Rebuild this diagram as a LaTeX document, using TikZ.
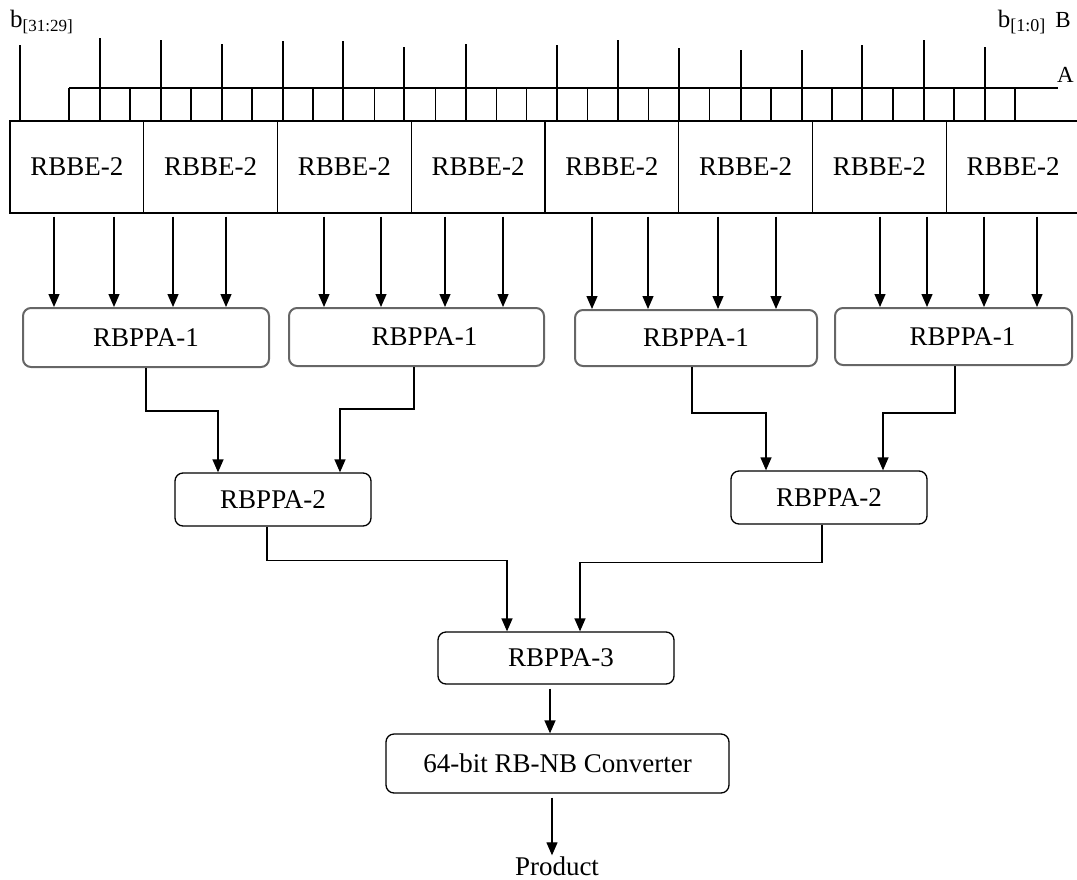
\documentclass[tikz,border=0pt]{standalone}
\usepackage{fontspec}
\setmainfont{Liberation Serif}
\usetikzlibrary{arrows.meta}
\begin{document}
\begin{tikzpicture}[x=1pt,y=-1pt,
  wire/.style={line width=1.3pt,draw=black},
  arr/.style={wire,-{Triangle[length=13pt,width=11pt]}},
  rbbebox/.style={draw,line width=1.3pt,minimum width=133.75pt,minimum height=92pt,inner sep=0pt,font=\fontsize{27}{30}\selectfont},
  ppaone/.style={draw=black!60,line width=2pt,rounded corners=8pt,inner sep=0pt,font=\fontsize{27}{30}\selectfont},
  ppa/.style={draw,line width=1.3pt,rounded corners=8pt,inner sep=0pt,font=\fontsize{27}{30}\selectfont},
  lbl/.style={inner sep=0pt,font=\fontsize{25}{28}\selectfont}]
\useasboundingbox (0,0) rectangle (1077,879);

% top labels
\node[lbl,anchor=base west] (b31) at (10,27) {b\raisebox{-0.4ex}{\fontsize{17}{17}\selectfont[31:29]}};
\node[lbl,anchor=base east] (b10) at (1071,27) {b\raisebox{-0.4ex}{\fontsize{18}{18}\selectfont[1:0]}\hspace{10pt}{\fontsize{23}{26}\selectfont B}};
\node[lbl,anchor=base east,font=\fontsize{23}{26}\selectfont] (alab) at (1074,82) {A};

% RBBE row
\foreach \i in {0,...,7}
  \node[rbbebox] (rbbe\i) at ({10+133.75*\i+66.875},167) {RBBE-2};

% A cells
\draw[wire] (69,88) -- (1058,88);
\foreach \k in {0,...,31}
  \draw[wire] ({69+30.516*\k},88) -- ({69+30.516*\k},121);

% B bit lines
\foreach \x/\t in {20/45,100/38,161/40,222/44,283/41,343/41,404/47,466/44,557/45,618/40,679/48,741/50,802/50,862/45,924/40,985/47}
  \draw[wire] (\x,\t) -- (\x,121);

% RBPPA-1
\node[ppaone,minimum width=246pt,minimum height=59pt] (p1) at (146,337.5) {RBPPA-1};
\node[ppaone,minimum width=255pt,minimum height=58pt] (p2) at (416.5,337) {\hspace{16pt}RBPPA-1};
\node[ppaone,minimum width=242pt,minimum height=56pt] (p3) at (696,338) {RBPPA-1};
\node[ppaone,minimum width=237pt,minimum height=57pt] (p4) at (953.5,336.5) {\hspace{18pt}RBPPA-1};

% RBPPA-2, 3, converter
\node[ppa,minimum width=196pt,minimum height=53pt] (q1) at (273,499.5) {RBPPA-2};
\node[ppa,minimum width=196pt,minimum height=53pt] (q2) at (829,497.5) {RBPPA-2};
\node[ppa,minimum width=236pt,minimum height=52pt] (r) at (556,658) {\hspace{10pt}RBPPA-3};
\node[ppa,minimum width=343pt,minimum height=59pt] (conv) at (557.5,763.5) {64-bit RB-NB Converter};
\node[inner sep=1pt,font=\fontsize{27}{30}\selectfont] (prod) at (557,866) {Product};

% arrows RBBE -> RBPPA-1
\foreach \x/\b/\p in {54/0/1,114/0/1,173/1/1,226/1/1,324/2/2,381/2/2,445/3/2,503/3/2,592/4/3,648/4/3,718/5/3,776/5/3,880/6/4,927/6/4,984/7/4,1037/7/4}
  \draw[arr,shorten <=3pt] (rbbe\b.south -| \x,0) -- (p\p.north -| \x,0);

% RBPPA-1 -> RBPPA-2
\draw[arr] (p1.south) -- ++(0,43) -| (q1.north -| 218,0);
\draw[arr] (p2.south -| 414,0) -- ++(0,42) -| (q1.north -| 340,0);
\draw[arr] (p3.south -| 692,0) -- ++(0,46) -| (q2.north -| 766,0);
\draw[arr] (p4.south -| 955,0) -- ++(0,47) -| (q2.north -| 883,0);

% RBPPA-2 -> RBPPA-3
\draw[arr] (q1.south -| 267,0) -- ++(0,34) -| (r.north -| 507,0);
\draw[arr] (q2.south -| 822,0) -- ++(0,38) -| (r.north -| 580,0);

% RBPPA-3 -> converter -> product
\draw[arr,shorten <=4pt] (r.south -| 550,0) -- (conv.north -| 550,0);
\draw[arr,shorten <=4pt] (conv.south -| 552,0) -- (prod.north -| 552,0);
\end{tikzpicture}
\end{document}
